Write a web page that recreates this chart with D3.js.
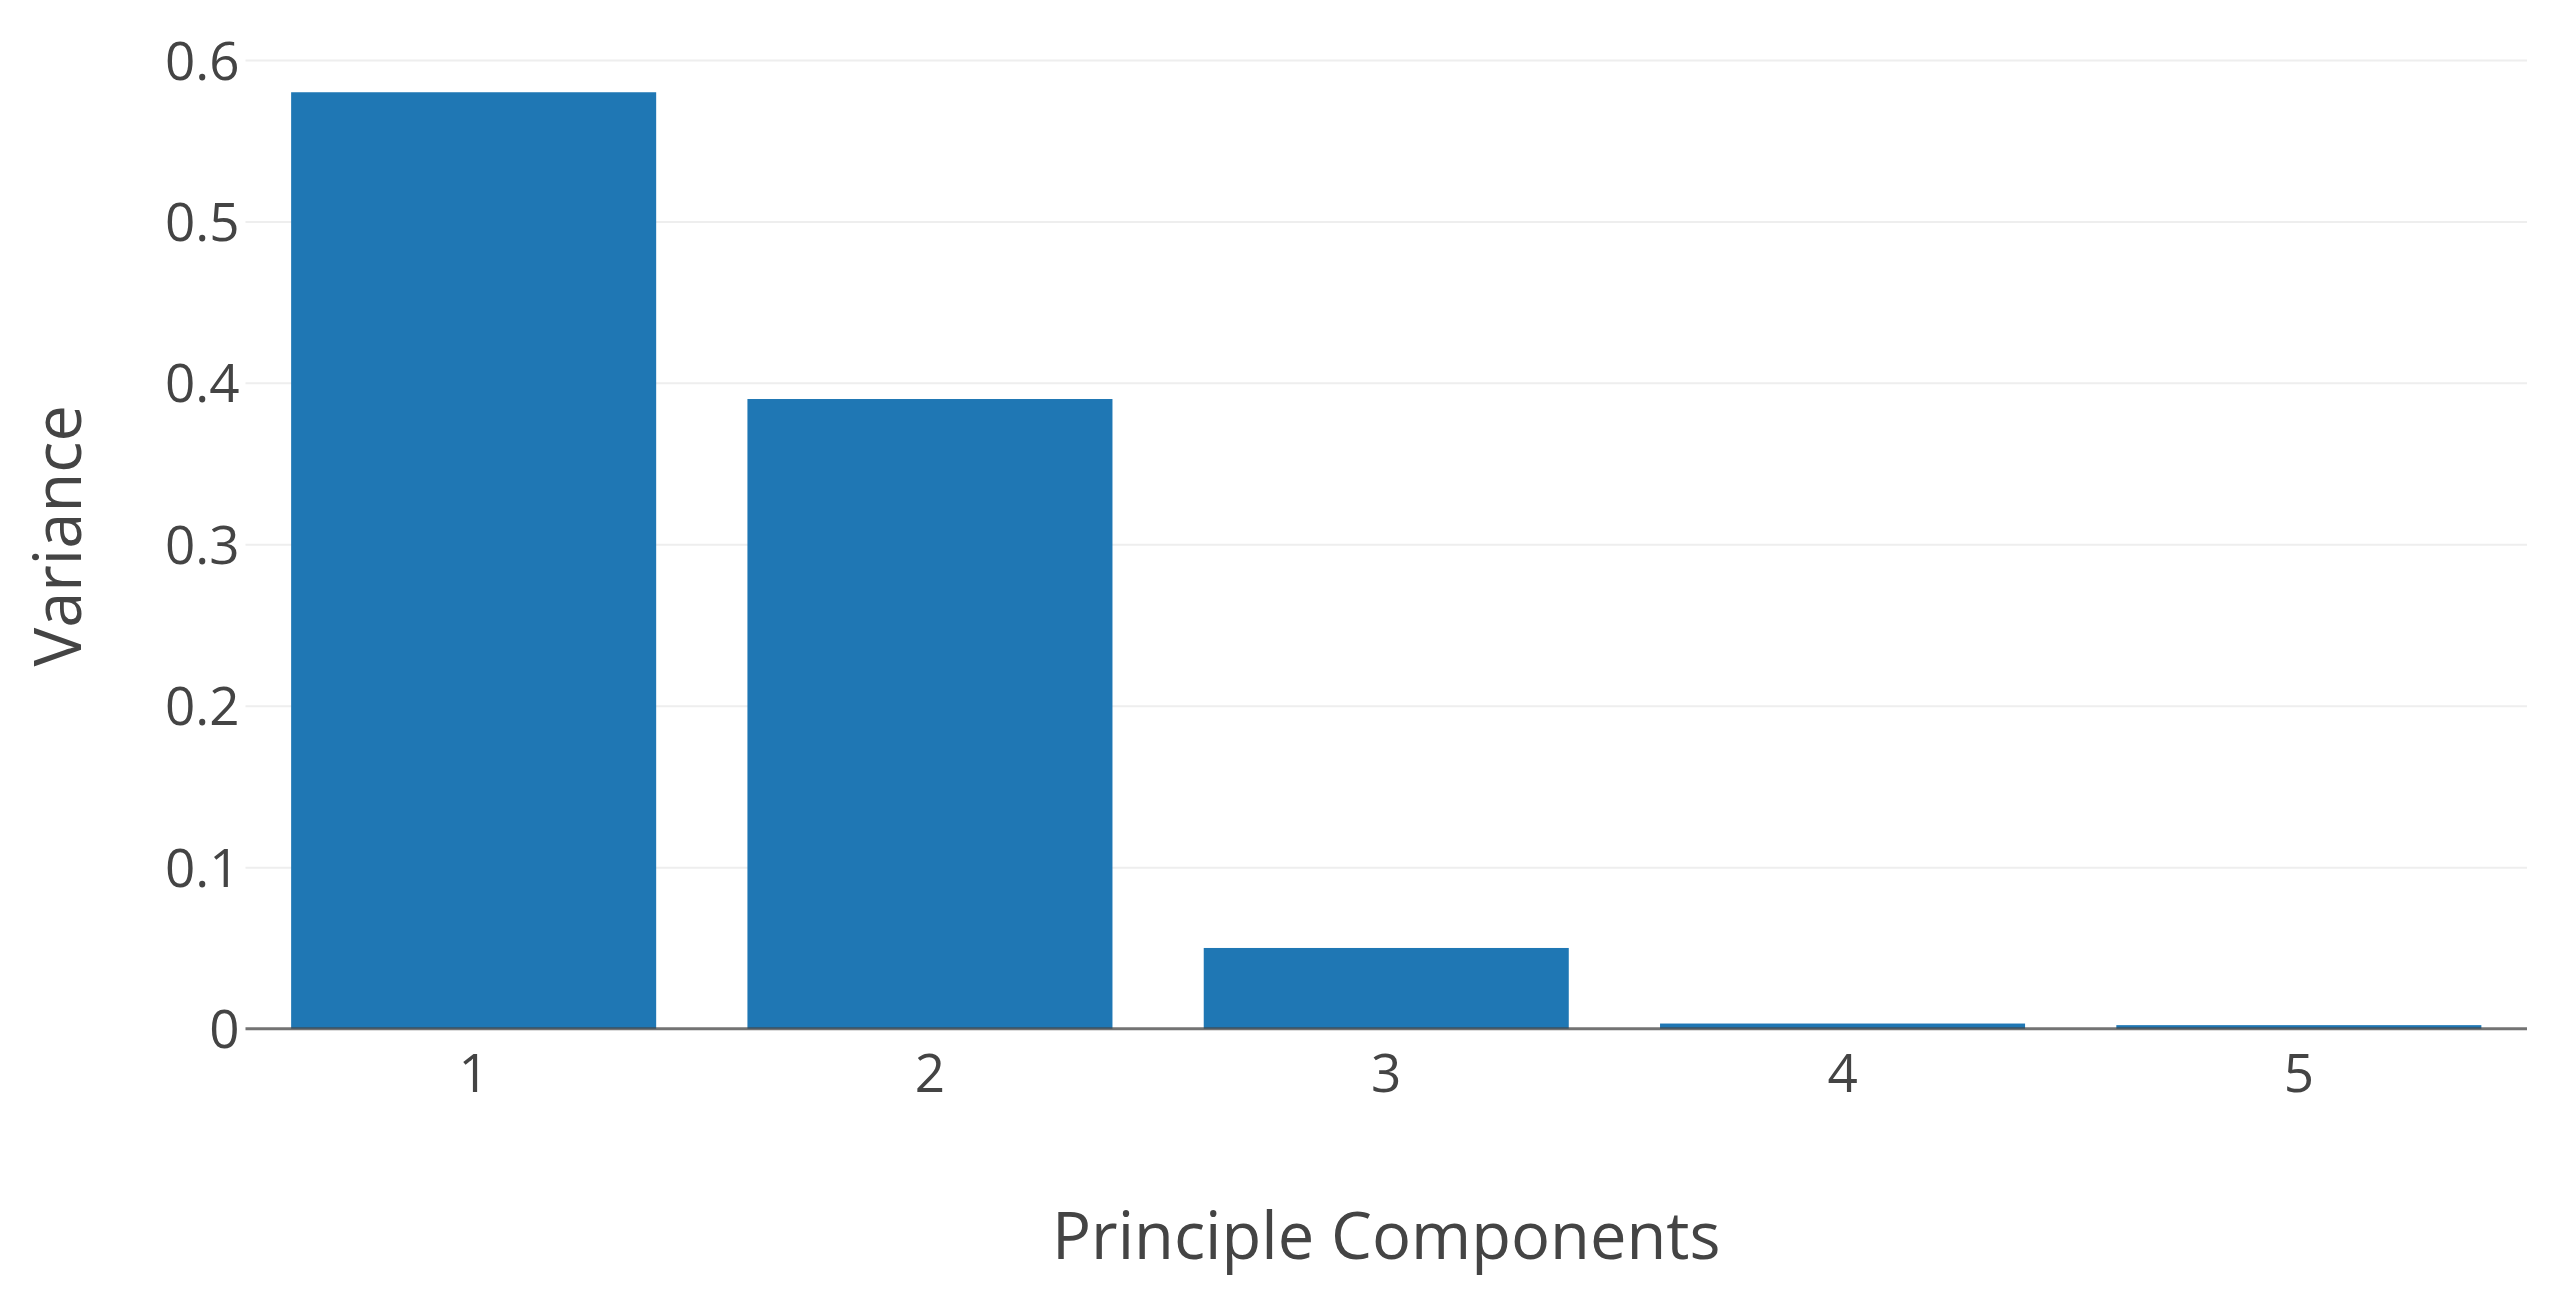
<!DOCTYPE html>
<html>
<head>
<meta charset="utf-8">
<script src="https://cdn.jsdelivr.net/npm/d3@7"></script>
<style>
  html, body { margin: 0; padding: 0; background: #fff; }
  svg { display: block; }
  text { font-family: "Open Sans", "Noto Sans", sans-serif; fill: #444; }
</style>
</head>
<body>
<svg id="chart" width="2558" height="1302"></svg>
<script>
// ---- data ----
const categories = ["1", "2", "3", "4", "5"];
const variance = [0.58, 0.39, 0.05, 0.0032, 0.0022];
const yTicks = [0, 0.1, 0.2, 0.3, 0.4, 0.5, 0.6];
const xTitle = "Principle Components";
const yTitle = "Variance";

// ---- layout ----
const W = 2558, H = 1302;
const plot = { left: 245.5, right: 2527, top: 43, bottom: 1028.7 };
const barColor = "#1f77b4";

const svg = d3.select("#chart");

const x = d3.scaleBand()
  .domain(categories)
  .range([plot.left, plot.right])
  .paddingInner(0.2)
  .paddingOuter(0.1);

const y = d3.scaleLinear()
  .domain([0, 0.6105])
  .range([plot.bottom, plot.top]);

// grid lines
const grid = svg.append("g")
  .attr("transform", `translate(${plot.left},0)`)
  .call(d3.axisLeft(y)
    .tickValues(yTicks.filter(d => d !== 0))
    .tickSize(-(plot.right - plot.left))
    .tickFormat(""));
grid.select(".domain").remove();
grid.selectAll("line").attr("stroke", "#eeeeee").attr("stroke-width", 2);

// bars
svg.append("g")
  .selectAll("rect")
  .data(categories.map((c, i) => ({ c, v: variance[i] })))
  .join("rect")
  .attr("x", d => x(d.c))
  .attr("width", x.bandwidth())
  .attr("y", d => y(d.v))
  .attr("height", d => y(0) - y(d.v))
  .attr("fill", barColor);

// zero line
svg.append("line")
  .attr("x1", plot.left).attr("x2", plot.right)
  .attr("y1", y(0)).attr("y2", y(0))
  .attr("stroke", "#444")
  .attr("stroke-opacity", 0.75)
  .attr("stroke-width", 3);

// y axis labels
const yAxis = svg.append("g")
  .attr("transform", `translate(${plot.left - 6},0)`)
  .call(d3.axisLeft(y)
    .tickValues(yTicks)
    .tickSize(0)
    .tickPadding(0)
    .tickFormat(d => String(+d.toFixed(1))));
yAxis.select(".domain").remove();
yAxis.selectAll("text")
  .attr("font-size", 53)
  .attr("font-family", "'Open Sans', sans-serif")
  .attr("fill", "#444")
  .attr("dy", "0.36em");

// x axis labels
const xAxis = svg.append("g")
  .attr("transform", `translate(0,${plot.bottom})`)
  .call(d3.axisBottom(x).tickSize(0).tickPadding(0));
xAxis.select(".domain").remove();
xAxis.selectAll("text")
  .attr("font-size", 53)
  .attr("font-family", "'Open Sans', sans-serif")
  .attr("fill", "#444")
  .attr("y", 63)
  .attr("dy", 0);

// axis titles
svg.append("text")
  .attr("x", (plot.left + plot.right) / 2)
  .attr("y", 1259)
  .attr("text-anchor", "middle")
  .attr("font-size", 65)
  .text(xTitle);

svg.append("text")
  .attr("transform", `translate(81,${(plot.top + plot.bottom) / 2}) rotate(-90)`)
  .attr("text-anchor", "middle")
  .attr("font-size", 65)
  .text(yTitle);
</script>
</body>
</html>
